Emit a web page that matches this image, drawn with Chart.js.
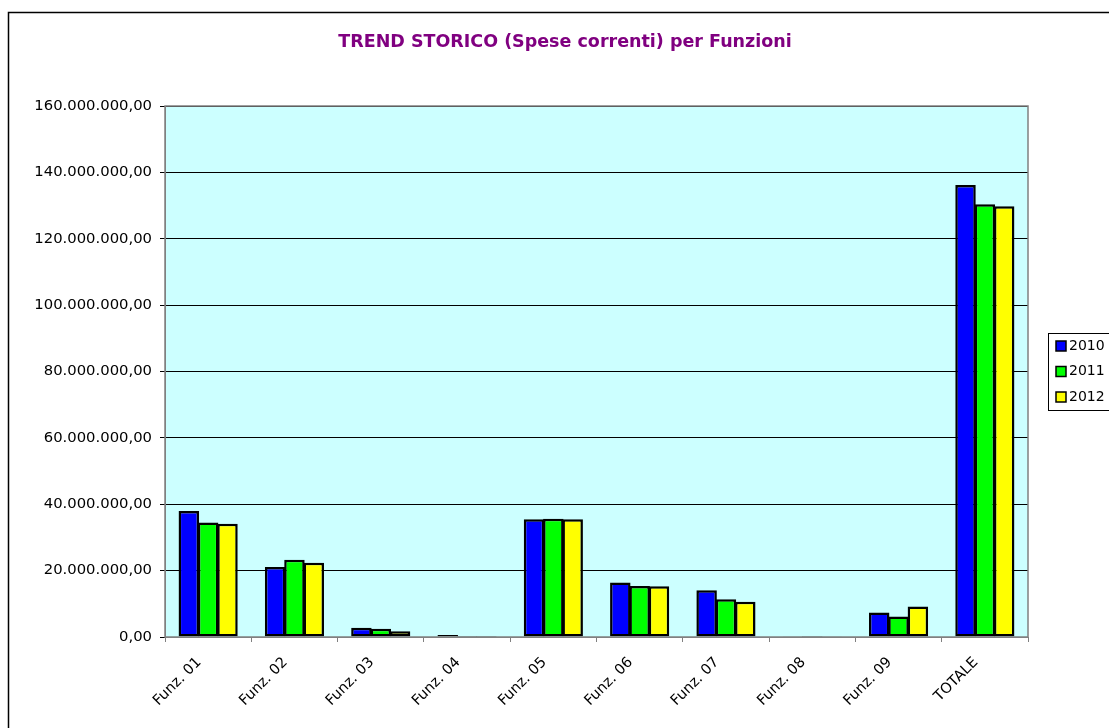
<!DOCTYPE html>
<html>
<head>
<meta charset="utf-8">
<script src="https://cdn.jsdelivr.net/npm/chart.js@4/dist/chart.umd.min.js"></script>
<style>
html,body{margin:0;padding:0;background:#fff;}
canvas{display:block;}
</style>
</head>
<body>
<canvas id="c" width="1109" height="728"></canvas>
<script>
const categories = ['Funz. 01','Funz. 02','Funz. 03','Funz. 04','Funz. 05','Funz. 06','Funz. 07','Funz. 08','Funz. 09','TOTALE'];
const seriesNames = ['2010','2011','2012'];
const values2010 = [38.0e6, 21.1e6, 2.8e6, 0.6e6, 35.5e6, 16.4e6, 14.1e6, 0.1e6, 7.4e6, 136.2e6];
const values2011 = [34.5e6, 23.3e6, 2.5e6, 0.3e6, 35.6e6, 15.4e6, 11.4e6, 0.3e6, 6.2e6, 130.4e6];
const values2012 = [34.1e6, 22.4e6, 1.7e6, 0.3e6, 35.5e6, 15.3e6, 10.6e6, 0.1e6, 9.2e6, 129.8e6];
const yTicks = [0, 20e6, 40e6, 60e6, 80e6, 100e6, 120e6, 140e6, 160e6];
const titleText = 'TREND STORICO (Spese correnti) per Funzioni';
const colors = ['#0000FF', '#00FF00', '#FFFF00'];

function fmtIt(v) {
  const s = Math.round(v).toString().replace(/\B(?=(\d{3})+(?!\d))/g, '.');
  return s + ',00';
}

const FONT = '"DejaVu Sans", Verdana, sans-serif';

const framePlugin = {
  id: 'frame',
  beforeDraw(chart) {
    const ctx = chart.ctx;
    const a = chart.chartArea;
    ctx.save();
    ctx.fillStyle = '#fff';
    ctx.fillRect(0, 0, chart.width, chart.height);
    ctx.strokeStyle = '#000';
    ctx.lineWidth = 1.5;
    ctx.beginPath();
    ctx.moveTo(8.5, chart.height + 2);
    ctx.lineTo(8.5, 12.5);
    ctx.lineTo(chart.width + 2, 12.5);
    ctx.stroke();
    ctx.fillStyle = '#CCFFFF';
    ctx.fillRect(a.left, a.top, a.right - a.left, a.bottom - a.top);
    ctx.restore();
  },
  afterDraw(chart) {
    const ctx = chart.ctx;
    const a = chart.chartArea;
    ctx.save();
    ctx.strokeStyle = '#808080';
    ctx.lineWidth = 1.5;
    ctx.strokeRect(a.left, a.top, a.right - a.left, a.bottom - a.top);
    ctx.fillStyle = '#800080';
    ctx.font = 'bold 17.5px ' + FONT;
    ctx.textAlign = 'center';
    ctx.textBaseline = 'middle';
    ctx.fillText(titleText, 565, 42);
    const lx = 1048, ly = 333, lw = 70, lh = 77;
    ctx.strokeStyle = '#000';
    ctx.lineWidth = 1;
    ctx.fillStyle = '#fff';
    ctx.fillRect(lx + 0.5, ly + 0.5, lw, lh);
    ctx.strokeRect(lx + 0.5, ly + 0.5, lw, lh);
    ctx.font = '14px ' + FONT;
    ctx.textBaseline = 'middle';
    ctx.textAlign = 'left';
    chart.data.datasets.forEach((ds, i) => {
      const cy = 346 + i * 25.5;
      ctx.fillStyle = ds.backgroundColor;
      ctx.fillRect(1056, cy - 5, 10, 10);
      ctx.lineWidth = 1.5;
      ctx.strokeStyle = '#000';
      ctx.strokeRect(1056, cy - 5, 10, 10);
      ctx.fillStyle = '#000';
      ctx.fillText(ds.label, 1069, cy);
    });
    ctx.restore();
  }
};

new Chart(document.getElementById('c'), {
  type: 'bar',
  data: {
    labels: categories,
    datasets: [
      { label: seriesNames[0], data: values2010, backgroundColor: colors[0] },
      { label: seriesNames[1], data: values2011, backgroundColor: colors[1] },
      { label: seriesNames[2], data: values2012, backgroundColor: colors[2] }
    ]
  },
  options: {
    responsive: false,
    animation: false,
    devicePixelRatio: 1,
    layout: { padding: { left: 0, right: 81, top: 106, bottom: 0 } },
    datasets: {
      bar: {
        categoryPercentage: 0.672,
        barPercentage: 1.06,
        borderColor: '#000',
        borderWidth: 2.5,
        borderSkipped: false
      }
    },
    plugins: {
      legend: { display: false },
      tooltip: { enabled: false },
      title: { display: false }
    },
    scales: {
      x: {
        offset: true,
        grid: {
          offset: true,
          drawOnChartArea: false,
          drawTicks: true,
          tickLength: 5,
          color: '#808080'
        },
        border: { color: '#808080', width: 1 },
        ticks: {
          color: '#000',
          font: { family: FONT, size: 14.5 },
          minRotation: 45,
          maxRotation: 45,
          autoSkip: false,
          padding: 12,
          labelOffset: -9
        },
        afterFit(scale) { scale.height = 91; }
      },
      y: {
        min: 0,
        max: 160e6,
        afterBuildTicks(scale) { scale.ticks = yTicks.map(v => ({ value: v })); },
        grid: {
          color: '#000',
          lineWidth: 1,
          drawTicks: true,
          tickLength: 5
        },
        border: { color: '#808080', width: 1 },
        ticks: {
          color: '#000',
          font: { family: FONT, size: 14.8 },
          padding: 8,
          callback: (v) => fmtIt(v)
        },
        afterFit(scale) { scale.width = 165; }
      }
    }
  },
  plugins: [framePlugin]
});
</script>
</body>
</html>
